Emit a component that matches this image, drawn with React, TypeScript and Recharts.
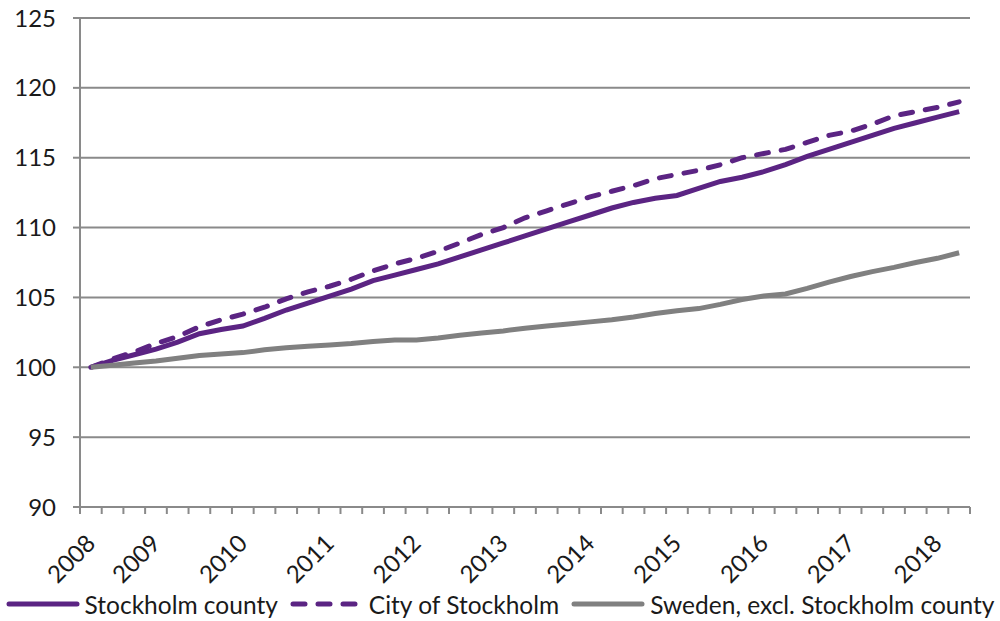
import { LineChart, Line, XAxis, YAxis, CartesianGrid, Legend } from 'recharts';

const periods = [
  '2008 Q2', '2008 Q3', '2008 Q4',
  '2009 Q1', '2009 Q2', '2009 Q3', '2009 Q4',
  '2010 Q1', '2010 Q2', '2010 Q3', '2010 Q4',
  '2011 Q1', '2011 Q2', '2011 Q3', '2011 Q4',
  '2012 Q1', '2012 Q2', '2012 Q3', '2012 Q4',
  '2013 Q1', '2013 Q2', '2013 Q3', '2013 Q4',
  '2014 Q1', '2014 Q2', '2014 Q3', '2014 Q4',
  '2015 Q1', '2015 Q2', '2015 Q3', '2015 Q4',
  '2016 Q1', '2016 Q2', '2016 Q3', '2016 Q4',
  '2017 Q1', '2017 Q2', '2017 Q3', '2017 Q4',
  '2018 Q1', '2018 Q2',
];

const yearLabels = ['2008', '2009', '2010', '2011', '2012', '2013', '2014', '2015', '2016', '2017', '2018'];

const stockholmCounty = [
  100.0, 100.5, 100.9, 101.3, 101.8, 102.4, 102.7, 102.95, 103.5, 104.1,
  104.6, 105.1, 105.6, 106.2, 106.6, 107.0, 107.4, 107.9, 108.4, 108.9,
  109.4, 109.9, 110.4, 110.9, 111.4, 111.8, 112.1, 112.3, 112.8, 113.3,
  113.6, 114.0, 114.5, 115.1, 115.6, 116.1, 116.6, 117.1, 117.5, 117.9,
  118.3,
];

const cityOfStockholm = [
  100.0, 100.6, 101.1, 101.7, 102.2, 102.9, 103.4, 103.8, 104.3, 104.9,
  105.4, 105.8, 106.3, 106.9, 107.4, 107.8, 108.3, 108.9, 109.5, 110.0,
  110.7, 111.2, 111.7, 112.2, 112.6, 113.0, 113.5, 113.8, 114.1, 114.5,
  115.0, 115.3, 115.6, 116.1, 116.6, 116.9, 117.4, 118.0, 118.3, 118.6,
  119.0,
];

const swedenExclCounty = [
  100.0, 100.15, 100.3, 100.45, 100.65, 100.85, 100.95, 101.05, 101.25, 101.4,
  101.5, 101.6, 101.7, 101.85, 101.95, 101.95, 102.1, 102.3, 102.45, 102.6,
  102.8, 102.95, 103.1, 103.25, 103.4, 103.6, 103.85, 104.05, 104.2, 104.5,
  104.85, 105.1, 105.25, 105.65, 106.1, 106.5, 106.85, 107.15, 107.5, 107.8,
  108.2,
];

const yTicks = [90, 95, 100, 105, 110, 115, 120, 125];

const PURPLE = '#5b2483';
const GRAY = '#808080';
const AXIS = '#8a8a8a';
const FONT = 'Lato, "Open Sans", sans-serif';
const FONT_SIZE = 24;

const data = periods.map((p, i) => ({
  period: p,
  idx: i,
  county: stockholmCounty[i],
  city: cityOfStockholm[i],
  sweden: swedenExclCounty[i],
}));

// year label sits on the first category, then on every Q1
const labelAt = new Map<number, string>();
yearLabels.forEach((y, k) => {
  const i = periods.indexOf(`${y} Q1`);
  labelAt.set(k === 0 ? 0 : i, y);
});

// tick marks between categories, labels on categories
const boundaryTicks = periods.map((_, i) => i - 0.5).concat([periods.length - 0.5]);
const xTicks = [...boundaryTicks, ...Array.from(labelAt.keys())];

const XTick = (props: any) => {
  const { x, y, payload } = props;
  const v = payload.value;
  if (!Number.isInteger(v)) {
    return <line x1={x} x2={x} y1={y} y2={y + 7} stroke={AXIS} strokeWidth={2} />;
  }
  const tx = x + 6;
  const ty = y + 38;
  return (
    <text
      x={tx}
      y={ty}
      textAnchor="end"
      transform={`rotate(-45 ${tx} ${ty})`}
      fontFamily={FONT}
      fontSize={FONT_SIZE}
      fill="#1a1a1a"
    >
      {labelAt.get(v)}
    </text>
  );
};

const legendItems = [
  { label: 'Stockholm county', color: PURPLE, dash: undefined },
  { label: 'City of Stockholm', color: PURPLE, dash: '12 13' },
  { label: 'Sweden, excl. Stockholm county', color: GRAY, dash: undefined },
];

const renderLegend = () => (
  <div
    style={{
      display: 'flex',
      alignItems: 'center',
      justifyContent: 'center',
      height: 34,
      fontFamily: FONT,
      fontSize: FONT_SIZE + 0.5,
      color: '#1a1a1a',
      whiteSpace: 'nowrap',
    }}
  >
    {legendItems.map((item, i) => (
      <div key={i} style={{ display: 'flex', alignItems: 'center', marginLeft: i === 0 ? 0 : 12 }}>
        <svg width={74} height={10} style={{ marginRight: 5 }}>
          <line
            x1={3}
            x2={71}
            y1={5}
            y2={5}
            stroke={item.color}
            strokeWidth={5}
            strokeLinecap="round"
            strokeDasharray={item.dash}
          />
        </svg>
        <span>{item.label}</span>
      </div>
    ))}
  </div>
);

export default function App() {
  return (
    <div style={{ position: 'absolute', left: 0, top: 0, width: 1000, height: 621, background: '#fff' }}>
      <LineChart width={1000} height={621} data={data} margin={{ top: 18, right: 30, bottom: 0, left: 0 }}>
        <CartesianGrid vertical={false} stroke={AXIS} strokeWidth={2} />
        <XAxis
          dataKey="idx"
          type="number"
          domain={[-0.5, periods.length - 0.5]}
          ticks={xTicks}
          interval={0}
          tick={<XTick />}
          tickLine={false}
          tickSize={0}
          tickMargin={0}
          axisLine={{ stroke: AXIS, strokeWidth: 2 }}
          height={80}
        />
        <YAxis
          domain={[90, 125]}
          ticks={yTicks}
          interval={0}
          width={80}
          tickSize={7}
          tickMargin={17}
          tickLine={{ stroke: AXIS, strokeWidth: 2 }}
          axisLine={{ stroke: AXIS, strokeWidth: 2 }}
          tick={{ fontFamily: FONT, fontSize: FONT_SIZE, fill: '#1a1a1a' }}
        />
        <Legend verticalAlign="bottom" height={34} content={renderLegend} wrapperStyle={{ left: 0, width: 1000 }} />
        <Line
          dataKey="county"
          name="Stockholm county"
          stroke={PURPLE}
          strokeWidth={5}
          dot={false}
          type="linear"
          isAnimationActive={false}
        />
        <Line
          dataKey="city"
          name="City of Stockholm"
          stroke={PURPLE}
          strokeWidth={5}
          strokeDasharray="12 13"
          strokeLinecap="round"
          dot={false}
          type="linear"
          isAnimationActive={false}
        />
        <Line
          dataKey="sweden"
          name="Sweden, excl. Stockholm county"
          stroke={GRAY}
          strokeWidth={5}
          dot={false}
          type="linear"
          isAnimationActive={false}
        />
      </LineChart>
    </div>
  );
}
